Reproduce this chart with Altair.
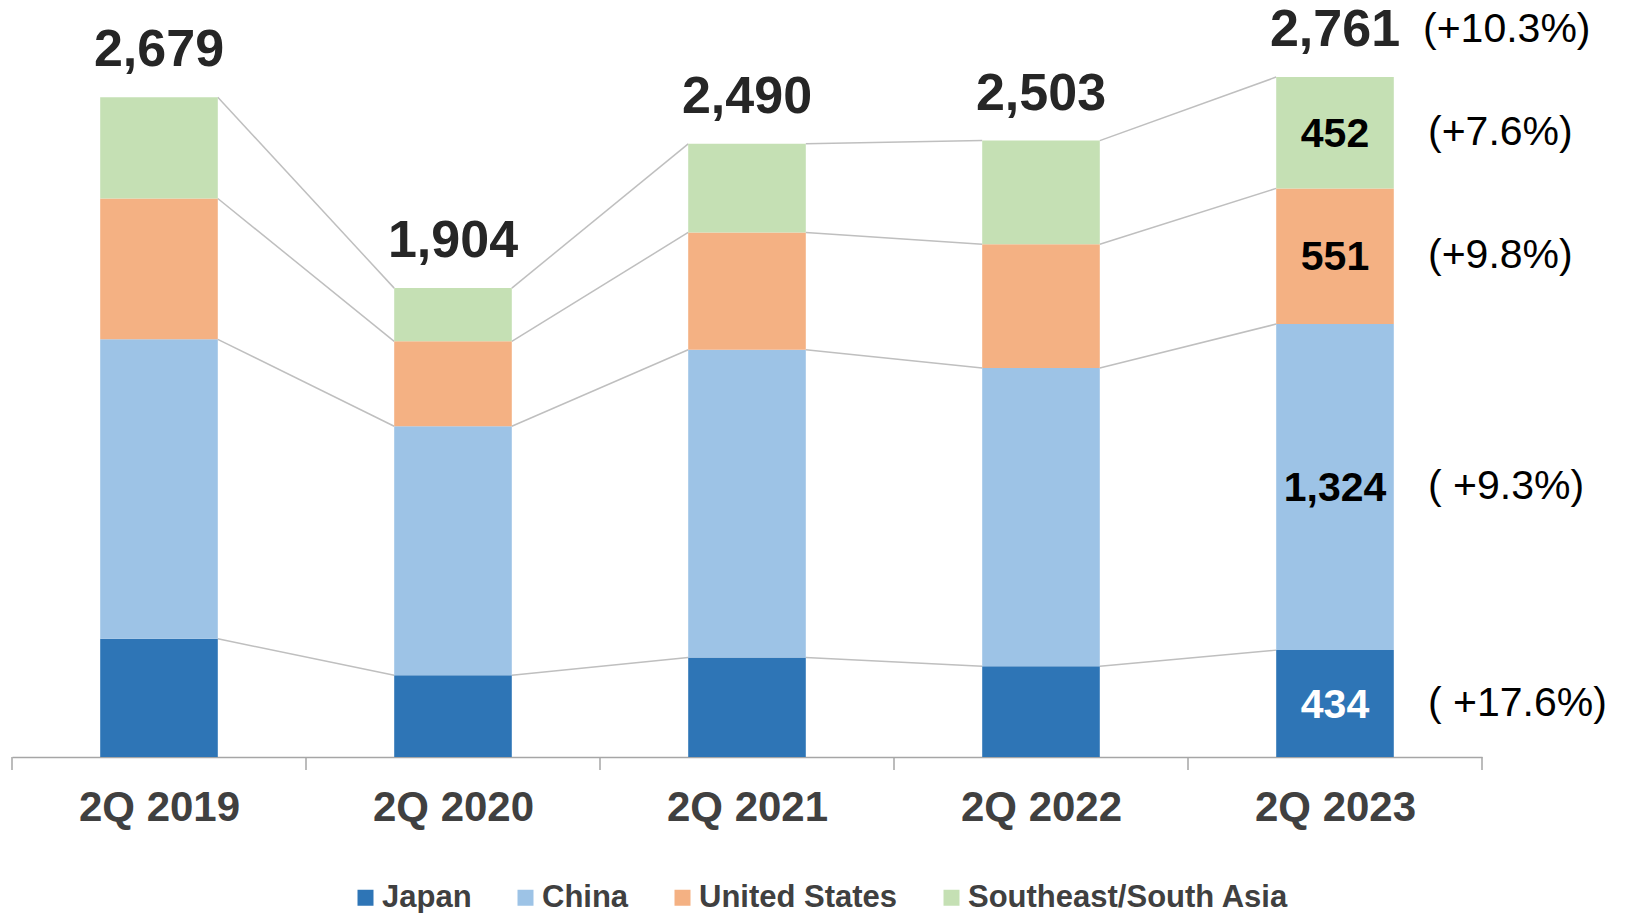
import json
import altair as alt
import pandas as pd

quarters = ["2Q 2019", "2Q 2020", "2Q 2021", "2Q 2022", "2Q 2023"]
regions = ["Japan", "China", "United States", "Southeast/South Asia"]
japan = [480, 332, 404, 369, 434]
china = [1216, 1011, 1250, 1211, 1324]
united_states = [572, 345, 476, 502, 551]
southeast_asia = [411, 216, 360, 421, 452]
totals = [2679, 1904, 2490, 2503, 2761]
growth_2023 = ["( +17.6%)", "( +9.3%)", "(+9.8%)", "(+7.6%)"]
growth_total = "(+10.3%)"
colors = ["#2E75B6", "#9DC3E6", "#F4B183", "#C5E0B4"]

W, H = 1470, 757
HALF = 0.2  # half bar width in band units
FONT = "Liberation Sans"

series = [japan, china, united_states, southeast_asia]
rows = []
for qi, q in enumerate(quarters):
    lo = 0
    for ri, r in enumerate(regions):
        v = series[ri][qi]
        rows.append(dict(quarter=q, idx=qi, region=r, value=v, lo=lo, hi=lo + v,
                         mid=lo + v / 2, last=(qi == len(quarters) - 1)))
        lo += v
seg = pd.DataFrame(rows)

conn_rows = []
for qi in range(len(quarters) - 1):
    for r in regions:
        a = seg[(seg.idx == qi) & (seg.region == r)].iloc[0]
        b = seg[(seg.idx == qi + 1) & (seg.region == r)].iloc[0]
        conn_rows.append(dict(idx=qi, idx_next=qi + 1, ya=a.hi, yb=b.hi))
conn = pd.DataFrame(conn_rows)

tot = pd.DataFrame(dict(quarter=quarters, idx=list(range(len(quarters))), total=totals))
last = seg[seg["last"]].copy().reset_index(drop=True)
last["growth"] = growth_2023
tot_last = tot.iloc[[-1]].copy()
tot_last["growth"] = growth_total
ticks = pd.DataFrame(dict(t=[i - 0.5 for i in range(len(quarters) + 1)]))

xscale = alt.Scale(domain=[-0.5, len(quarters) - 0.5], nice=False, zero=False)
yscale = alt.Scale(domain=[0, 3074], nice=False)
label_expr = json.dumps(quarters) + "[datum.value]"
xaxis = alt.Axis(
    values=list(range(len(quarters))), labelExpr=label_expr, ticks=False, grid=False,
    domainColor="#A6A6A6", domainWidth=1.5, labelFontSize=42, labelFont=FONT,
    labelFontWeight="bold", labelColor="#404040", labelPadding=30, title=None)


def X(field):
    return alt.X(field, scale=xscale, axis=xaxis)


def Y(field):
    return alt.Y(field, scale=yscale, axis=None)


bars = alt.Chart(seg).mark_rect().transform_calculate(
    xa=f"datum.idx - {HALF}", xb=f"datum.idx + {HALF}"
).encode(
    x=X("xa:Q"), x2="xb:Q",
    y=Y("lo:Q"), y2="hi:Q",
    color=alt.Color("region:N", scale=alt.Scale(domain=regions, range=colors),
                    legend=alt.Legend(orient="none", legendX=338, legendY=882,
                                      direction="horizontal", title=None,
                                      symbolType="square", symbolSize=256,
                                      symbolStrokeWidth=0, labelFontSize=31,
                                      labelFont=FONT, labelFontWeight="bold",
                                      labelColor="#404040", columnPadding=38,
                                      labelOffset=1, labelLimit=0)),
)

connectors = alt.Chart(conn).mark_rule(color="#BFBFBF", strokeWidth=1.5).transform_calculate(
    xa=f"datum.idx + {HALF}", xb=f"datum.idx_next - {HALF}"
).encode(
    x=X("xa:Q"), x2="xb:Q",
    y=Y("ya:Q"), y2="yb:Q",
)

tick_rules = alt.Chart(ticks).mark_rule(color="#A6A6A6", strokeWidth=1.5).encode(
    x=X("t:Q"), y=alt.value(H), y2=alt.value(H + 13)
)

total_text = alt.Chart(tot).mark_text(
    font=FONT, fontWeight="bold", fontSize=52, color="#262626", dy=-47, baseline="middle"
).encode(
    x=X("idx:Q"), y=Y("total:Q"),
    text=alt.Text("total:Q", format=","),
)

inner_text = alt.Chart(last).mark_text(
    font=FONT, fontWeight="bold", fontSize=41, baseline="middle", dy=2
).encode(
    x=X("idx:Q"), y=Y("mid:Q"),
    text=alt.Text("value:Q", format=","),
    color=alt.condition("datum.region == 'Japan'", alt.value("white"), alt.value("black")),
)

pct_text = alt.Chart(last).mark_text(
    font=FONT, fontSize=41, align="left", baseline="middle", dx=93, color="black"
).encode(
    x=X("idx:Q"), y=Y("mid:Q"),
    text="growth:N",
)

pct_total = alt.Chart(tot_last).mark_text(
    font=FONT, fontSize=41, align="left", baseline="middle", dx=88, dy=-47, color="black"
).encode(
    x=X("idx:Q"), y=Y("total:Q"),
    text="growth:N",
)

chart = alt.layer(
    connectors, bars, tick_rules, total_text, inner_text, pct_text, pct_total
).properties(
    width=W, height=H,
    autosize=alt.AutoSizeParams(type="none"),
    padding={"left": 12, "top": 0, "right": 143, "bottom": 156},
).configure_view(stroke=None)

chart.save("out.html", embed_options={"renderer": "svg", "actions": False})
